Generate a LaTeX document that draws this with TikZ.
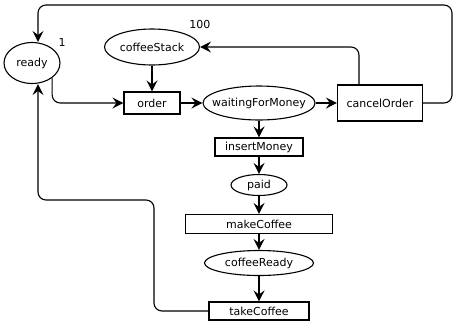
\documentclass[tikz,border=0pt]{standalone}
\usepackage{fontspec}
\setmainfont{DejaVu Sans}
\usetikzlibrary{shapes.geometric,positioning,arrows.meta}
\newcommand{\pl}[1]{\makebox[0pt]{#1}}

\begin{document}
\begin{tikzpicture}[x=1pt,y=-1pt,->,>={Stealth[length=11pt,width=11pt,inset=4pt]},
		line width=1.1pt,font=\fontsize{11}{13}\selectfont,
		place/.style={ellipse,draw,inner sep=0pt},
		trans/.style={rectangle,draw,inner sep=0pt,minimum height=18pt},
		link/.style={rounded corners=8pt}
		]
		\useasboundingbox (0,0) rectangle (454,322);
		\node[place, minimum width=56pt, minimum height=41pt] (ready) at (32,63) {\pl{ready}};
		\node[trans, minimum width=56pt, minimum height=22pt] (order) at (152,103) {order};
		\node[place, minimum width=95pt, minimum height=36pt] (stack) [above of=order, node distance=56pt] {\pl{coffeeStack}};
		\node[place, minimum width=112pt, minimum height=34pt] (wait) [right of=order, node distance=107pt] {\pl{waitingForMoney}};
		\node[trans, minimum width=85pt, minimum height=36pt] (cancel) [right of=wait, node distance=121pt] {cancelOrder};
		\node[trans, minimum width=88pt] (insert) [below of=wait, node distance=44pt] {insertMoney};
		\node[place, minimum width=56pt, minimum height=21pt] (paid) [below of=insert, node distance=38pt] {\pl{paid}};
		\node[trans, minimum width=147pt, minimum height=19pt] (make) [below of=paid, node distance=39pt] {makeCoffee};
		\node[place, minimum width=109pt, minimum height=25pt] (cup) [below of=make, node distance=39pt] {\pl{coffeeReady}};
		\node[trans, minimum width=100pt] (take) [below of=cup, node distance=48pt] {takeCoffee};
		
		% tokens
		\node (one) at ([xshift=10pt,yshift=6pt]ready.north east) {1};
		\node (hundred) at ([xshift=14pt,yshift=9pt]stack.north east) {100};
		
		\coordinate (top) at (452,5);
		\coordinate (kink) at (154,200);
		
		\draw (stack) -- (order);
		\draw[link] (ready.south east) |- (order);
		\draw (order) -- (wait);
		\draw (wait) -- (cancel);
		\draw (wait) -- (insert);
		\draw (insert) -- (paid);
		\draw (paid) -- (make);
		\draw (make) -- (cup);
		\draw (cup) -- (take);
		\draw[link] ([xshift=-21pt]cancel.north) |- (stack);
		\draw[link] (cancel) -| (top) -| ([xshift=6pt]ready.north);
		\draw[link] (take) -| (kink) -| ([xshift=6pt]ready.south);
	\end{tikzpicture}
\end{document}
